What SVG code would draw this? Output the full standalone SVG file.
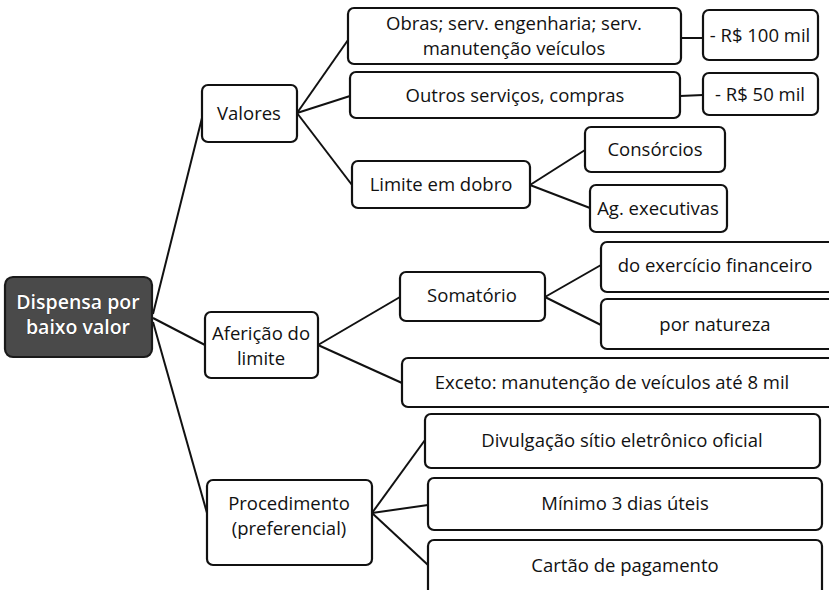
<svg xmlns="http://www.w3.org/2000/svg" width="829" height="590" viewBox="0 0 829 590">
<style>
.box{fill:#fff;stroke:#111;stroke-width:2.2}
.root{fill:#4a4a4a;stroke:#1a1a1a;stroke-width:2.2}
.t{font-family:"Open Sans","Liberation Sans",sans-serif;font-size:18.5px;fill:#111;text-anchor:middle}
.rt{font-family:"Open Sans","Liberation Sans",sans-serif;font-size:19.5px;fill:#fff;text-anchor:middle;font-weight:600;stroke:#222;stroke-width:0.6;paint-order:stroke}
.c{stroke:#111;stroke-width:2;fill:none}
</style>
<rect width="829" height="590" fill="#fff"/>
<g id="connectors">
<line class="c" x1="153" y1="314" x2="202" y2="118"/>
<line class="c" x1="153" y1="318" x2="205" y2="345"/>
<line class="c" x1="153" y1="322" x2="207" y2="513"/>
<line class="c" x1="297" y1="113" x2="348" y2="40"/>
<line class="c" x1="297" y1="113" x2="350" y2="96"/>
<line class="c" x1="297" y1="113" x2="352" y2="185"/>
<line class="c" x1="681" y1="38" x2="703" y2="38"/>
<line class="c" x1="680" y1="96" x2="703" y2="95"/>
<line class="c" x1="530" y1="185" x2="585" y2="150"/>
<line class="c" x1="530" y1="185" x2="590" y2="208"/>
<line class="c" x1="318" y1="345" x2="400" y2="297"/>
<line class="c" x1="318" y1="345" x2="402" y2="383"/>
<line class="c" x1="545" y1="297" x2="601" y2="265"/>
<line class="c" x1="545" y1="297" x2="601" y2="325"/>
<line class="c" x1="372" y1="513" x2="425" y2="440"/>
<line class="c" x1="372" y1="513" x2="428" y2="505"/>
<line class="c" x1="372" y1="513" x2="428" y2="565"/>
</g>
<g id="root"><rect class="root" x="5" y="277" width="147" height="80" rx="8"/><text class="rt" x="78" y="309">Dispensa por</text><text class="rt" x="78" y="334">baixo valor</text></g>
<g id="valores"><rect class="box" x="202" y="85" width="95" height="57" rx="6"/><text class="t" x="249" y="120">Valores</text></g>
<g id="obras"><rect class="box" x="348" y="8" width="333" height="56" rx="6"/><text class="t" x="514" y="30">Obras; serv. engenharia; serv.</text><text class="t" x="514" y="55">manutenção veículos</text></g>
<g id="r100"><rect class="box" x="703" y="10" width="115" height="50" rx="6"/><text class="t" x="760" y="42">- R$ 100 mil</text></g>
<g id="outros"><rect class="box" x="350" y="72" width="330" height="46" rx="6"/><text class="t" x="515" y="102">Outros serviços, compras</text></g>
<g id="r50"><rect class="box" x="703" y="73" width="115" height="42" rx="6"/><text class="t" x="760" y="101">- R$ 50 mil</text></g>
<g id="limite"><rect class="box" x="352" y="161" width="178" height="47" rx="6"/><text class="t" x="441" y="191">Limite em dobro</text></g>
<g id="consorcios"><rect class="box" x="585" y="127" width="140" height="45" rx="6"/><text class="t" x="655" y="156">Consórcios</text></g>
<g id="ag"><rect class="box" x="590" y="185" width="137" height="47" rx="6"/><text class="t" x="658" y="215">Ag. executivas</text></g>
<g id="afericao"><rect class="box" x="205" y="312" width="113" height="66" rx="6"/><text class="t" x="261" y="340">Aferição do</text><text class="t" x="261" y="365">limite</text></g>
<g id="somatorio"><rect class="box" x="400" y="272" width="145" height="49" rx="6"/><text class="t" x="472" y="302">Somatório</text></g>
<g id="exercicio"><rect class="box" x="601" y="242" width="236" height="50" rx="6"/><text class="t" x="715" y="272">do exercício financeiro</text></g>
<g id="natureza"><rect class="box" x="601" y="299" width="236" height="50" rx="6"/><text class="t" x="715" y="331">por natureza</text></g>
<g id="exceto"><rect class="box" x="402" y="358" width="435" height="49" rx="6"/><text class="t" x="612" y="389">Exceto: manutenção de veículos até 8 mil</text></g>
<g id="procedimento"><rect class="box" x="207" y="480" width="165" height="85" rx="6"/><text class="t" x="289" y="510">Procedimento</text><text class="t" x="289" y="535">(preferencial)</text></g>
<g id="divulgacao"><rect class="box" x="425" y="414" width="395" height="54" rx="6"/><text class="t" x="622" y="447">Divulgação sítio eletrônico oficial</text></g>
<g id="minimo"><rect class="box" x="428" y="478" width="394" height="52" rx="6"/><text class="t" x="625" y="510">Mínimo 3 dias úteis</text></g>
<g id="cartao"><rect class="box" x="428" y="540" width="394" height="56" rx="6"/><text class="t" x="625" y="572">Cartão de pagamento</text></g>
</svg>
